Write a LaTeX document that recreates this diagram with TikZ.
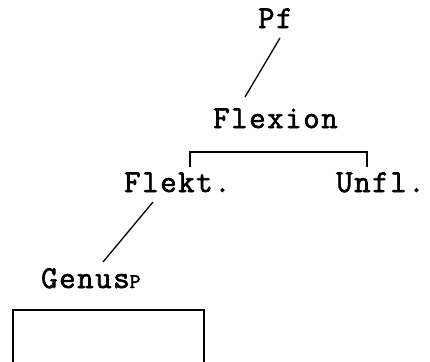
\documentclass[tikz,border=0pt]{standalone}
\usepackage{fontspec}
\usetikzlibrary{calc}
\newfontfamily\tw[LetterSpace=5,FakeBold=2]{Latin Modern Mono}
\tikzset{
  lbl/.style={anchor=base west, inner sep=0pt, font=\fontsize{32}{34}\tw},
  ln/.style={line width=1.3bp, black},
}
\begin{document}
\begin{tikzpicture}[x=1bp,y=-1bp]
\useasboundingbox (0,0) rectangle (430,362);
\node[lbl] (pf) at (258,28) {Pf};
\node[lbl] (flex) at (213,128) {Flexion};
\node[lbl] (flekt) at (124,192) {Flekt.};
\node[lbl] (unfl) at (336,192) {Unfl.};
\node[lbl] (genus) at (41,288) {Genus{\fontsize{21}{21}\selectfont P}};
\draw[ln] ($(pf.base west)+(22,10)$) -- ($(flex.base west)+(32,-31)$);
\draw[ln] ($(flekt.base west)+(66,-25)$) -- ++(0,-15) -| ($(unfl.base west)+(31,-25)$);
\draw[ln] ($(flekt.base west)+(29,10)$) -- ($(genus.base west)+(62,-26)$);
\draw[ln] (13,370) -- (13,310) -- (204,310) -- (204,370);
\end{tikzpicture}
\end{document}
